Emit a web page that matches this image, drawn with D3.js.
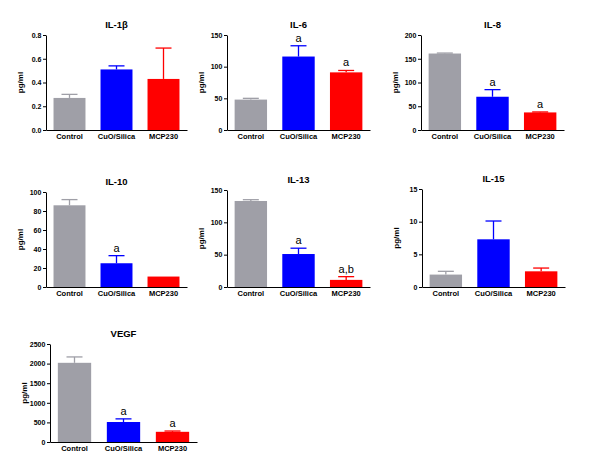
<!DOCTYPE html>
<html><head><meta charset="utf-8">
<script src="https://cdn.jsdelivr.net/npm/d3@7"></script>
<style>
html,body{margin:0;padding:0;background:#fff;}
svg{display:block;font-family:"Liberation Sans",Arial,sans-serif;}
</style></head>
<body><svg id="c" width="600" height="469"></svg>
<script>
const categories = ["Control", "CuO/Silica", "MCP230"];
const colors = ["#9f9fa7", "#0000ff", "#ff0000"];

const titles = ["IL-1β", "IL-6", "IL-8", "IL-10", "IL-13", "IL-15", "VEGF"];
const means = [
  [0.27, 0.51, 0.43],
  [48, 116, 91],
  [161, 70, 37],
  [86, 25, 11],
  [133, 51, 11],
  [1.9, 7.3, 2.4],
  [2020, 510, 260]
];
const errTops = [
  [0.30, 0.54, 0.69],
  [50, 133, 94],
  [162, 85, 38],
  [92, 33, 11],
  [135, 60, 16],
  [2.4, 10.1, 2.9],
  [2170, 590, 280]
];
const sigLabels = [
  ["", "", ""],
  ["", "a", "a"],
  ["", "a", "a"],
  ["", "a", ""],
  ["", "a", "a,b"],
  ["", "", ""],
  ["", "a", "a"]
];
const yMax = [0.8, 150, 200, 100, 150, 15, 2500];
const yTicks = [
  [0, 0.2, 0.4, 0.6, 0.8],
  [0, 50, 100, 150],
  [0, 50, 100, 150, 200],
  [0, 20, 40, 60, 80, 100],
  [0, 50, 100, 150],
  [0, 5, 10, 15],
  [0, 500, 1000, 1500, 2000, 2500]
];
const tickFormats = [".1f", "d", "d", "d", "d", "d", "d"];

// layout boxes [x0, x1, yTop, yBot]
const boxes = [
  [46, 187, 35, 130],
  [227, 370, 35, 130],
  [421, 564, 35, 130],
  [46, 187, 192, 287],
  [227, 370, 190, 287],
  [422, 565, 189, 287],
  [50, 197, 344, 442]
];

const svg = d3.select("#c");

titles.forEach((t, i) => {
  const [x0, x1, yTop, yBot] = boxes[i];
  const g = svg.append("g");
  const x = d3.scaleBand().domain(categories).range([x0, x1]).paddingInner(0.32).paddingOuter(0.16);
  const y = d3.scaleLinear().domain([0, yMax[i]]).range([yBot, yTop]);

  const data = categories.map((c, j) => ({c, v: means[i][j], e: errTops[i][j], s: sigLabels[i][j], col: colors[j]}));

  // bars
  g.selectAll("rect").data(data).enter().append("rect")
    .attr("x", d => x(d.c)).attr("width", x.bandwidth())
    .attr("y", d => y(d.v)).attr("height", d => yBot - y(d.v))
    .attr("fill", d => d.col);

  // error bars (upper only)
  const cap = 8;
  data.forEach(d => {
    if (d.e > d.v) {
      const cx = x(d.c) + x.bandwidth() / 2;
      g.append("line").attr("x1", cx).attr("x2", cx).attr("y1", y(d.v)).attr("y2", y(d.e))
        .attr("stroke", d.col).attr("stroke-width", 1.3);
      g.append("line").attr("x1", cx - cap).attr("x2", cx + cap).attr("y1", y(d.e)).attr("y2", y(d.e))
        .attr("stroke", d.col).attr("stroke-width", 1.3);
    }
    if (d.s) {
      g.append("text").attr("x", x(d.c) + x.bandwidth() / 2).attr("y", y(d.e) - 4)
        .attr("text-anchor", "middle").attr("font-size", 11).attr("fill", "#000").text(d.s);
    }
  });

  // y axis
  const ya = g.append("g").attr("transform", `translate(${x0},0)`)
    .call(d3.axisLeft(y).tickValues(yTicks[i]).tickFormat(d3.format(tickFormats[i])).tickSize(3).tickSizeOuter(0));
  ya.selectAll("text").attr("font-size", 7).attr("font-weight", "bold").attr("font-family", "Liberation Sans, Arial, sans-serif").attr("dx", "0.2em");
  ya.select(".domain").attr("stroke", "#000").attr("stroke-width", 1);
  ya.selectAll(".tick line").attr("stroke", "#000");

  // x axis
  const xa = g.append("g").attr("transform", `translate(0,${yBot})`)
    .call(d3.axisBottom(x).tickSize(0).tickPadding(4));
  xa.select(".domain").attr("stroke", "#000").attr("stroke-width", 1);
  xa.selectAll("text").attr("font-size", 7.5).attr("font-weight", "bold").attr("font-family", "Liberation Sans, Arial, sans-serif").attr("fill", "#000");

  // title
  g.append("text").attr("x", (x0 + x1) / 2).attr("y", yTop - 7)
    .attr("text-anchor", "middle").attr("font-size", 9.5).attr("font-weight", "bold").text(t);

  // y label
  g.append("text").attr("transform", `translate(${x0 - 23},${(yTop + yBot) / 2}) rotate(-90)`)
    .attr("text-anchor", "middle").attr("font-size", 8).attr("font-weight", "bold").text("pg/ml");
});
</script></body></html>
